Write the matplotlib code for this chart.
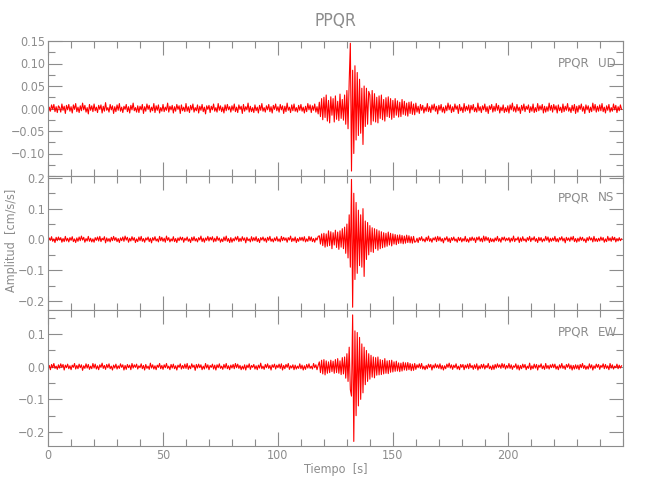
import numpy as np
import matplotlib
matplotlib.use('Agg')
import matplotlib.pyplot as plt
from matplotlib.ticker import MultipleLocator, FixedLocator

# Acelerogramas de la estacion PPQR (unidades de 0.001 cm/s/s)
# un valor cada 0.5 s, filas de 10 s
dt = 0.5

ud = [
    -14, 3, -6, 8, -2, 9, -7, 4, -9, 6, 2, -8, 10, -4, 5, -11, 7, -3, 9, -6,
    4, -10, 8, -2, 11, -7, 3, -9, 6, -5, 12, -3, 7, -8, 2, -12, 9, -4, 6, -7,
    10, -5, 3, -9, 7, -2, 8, -10, 5, -6, 13, -4, 2, -8, 9, -3, 6, -11, 4, -7,
    8, -4, 11, -6, 3, -9, 5, -2, 9, -7, 4, -10, 7, -3, 12, -5, 2, -8, 6, -9,
    5, -3, 9, -11, 4, -6, 10, -2, 7, -8, 3, -5, 11, -9, 6, -4, 8, -10, 2, -6,
    9, -7, 3, -4, 12, -8, 5, -3, 7, -10, 4, -6, 9, -2, 6, -11, 8, -5, 3, -7,
    11, -6, 4, -9, 7, -3, 10, -8, 2, -5, 8, -10, 5, -4, 9, -7, 3, -12, 6, -2,
    7, -9, 5, -3, 10, -6, 2, -8, 11, -4, 6, -7, 3, -10, 8, -5, 9, -3, 4, -8,
    6, -4, 10, -7, 3, -9, 8, -2, 5, -11, 9, -6, 4, -3, 12, -8, 5, -7, 2, -9,
    8, -5, 3, -10, 7, -4, 11, -6, 2, -8, 6, -3, 9, -7, 4, -10, 7, -2, 10, -5,
    4, -8, 9, -3, 6, -11, 5, -7, 12, -4, 3, -9, 8, -5, 10, -6, 2, -8, 7, -4,
    9, -6, 3, -10, 5, -7, 11, -3, 8, -9, 6, -4, 10, -8, 4, -12, 14, -18, 22, -25,
    25, -20, 30, -28, 18, -32, 26, -15, 22, -30, 28, -24, 16, -27, 32, -22, 20, -26, 30, -35,
    40, -45, 60, 145, -139, 85, -100, 95, -70, 80, -60, 65, -55, 45, -80, 50, -40, 45, -35, 38,
    30, -36, 40, -28, 33, -30, 25, -32, 28, -22, 30, -25, 20, -28, 24, -18, 26, -20, 22, -24,
    18, -20, 22, -15, 17, -19, 14, -18, 20, -13, 16, -15, 12, -17, 14, -11, 15, -13, 10, -14,
    12, -8, 5, -11, 9, -4, 7, -10, 3, -6, 11, -7, 4, -9, 8, -3, 10, -6, 5, -12,
    7, -4, 9, -8, 3, -10, 6, -5, 12, -3, 8, -9, 4, -7, 10, -2, 6, -11, 9, -5,
    3, -9, 11, -6, 5, -4, 8, -10, 7, -3, 9, -7, 2, -8, 12, -5, 4, -9, 6, -3,
    10, -7, 4, -11, 6, -2, 9, -8, 5, -6, 11, -4, 7, -10, 3, -5, 8, -9, 2, -7,
    6, -10, 8, -3, 12, -6, 4, -8, 9, -5, 3, -11, 7, -4, 10, -7, 5, -2, 8, -9,
    4, -6, 10, -9, 2, -7, 11, -5, 6, -3, 9, -10, 5, -8, 4, -6, 12, -4, 7, -8,
    9, -3, 6, -10, 8, -5, 3, -9, 10, -7, 5, -4, 11, -6, 2, -9, 7, -5, 9, -11,
    5, -8, 7, -2, 10, -6, 4, -11, 8, -3, 6, -9, 3, -7, 12, -4, 9, -8, 5, -6,
    8, -5, 11, -7, 3, -10, 6, -4, 9, -8, 2, -6, 10, -3, 7, -9, 4, -5, 8, -2,
]

ns = [
    -8, 5, -3, 9, -6, 2, -10, 7, -4, 8, -2, 6, -9, 3, -7, 10, -5, 4, -8, 6,
    -3, 9, -7, 2, -10, 5, -6, 8, -4, 11, -2, 7, -9, 3, -5, 10, -6, 4, -8, 2,
    -9, 6, -3, 8, -5, 10, -7, 4, -2, 9, -11, 5, -6, 3, -8, 7, -4, 10, -3, 6,
    -7, 3, -10, 5, -4, 8, -6, 11, -2, 7, -9, 4, -5, 9, -3, 6, -10, 2, -7, 8,
    -4, 10, -6, 3, -9, 5, -2, 8, -7, 4, -11, 6, -3, 9, -5, 2, -8, 10, -4, 7,
    -6, 4, -9, 11, -3, 6, -8, 2, -5, 9, -7, 3, -10, 5, -4, 8, -2, 7, -9, 4,
    -3, 8, -6, 2, -10, 7, -4, 9, -5, 3, -8, 6, -2, 11, -7, 4, -9, 5, -3, 10,
    -5, 7, -2, 9, -8, 4, -6, 10, -3, 5, -9, 2, -7, 8, -4, 11, -6, 3, -10, 6,
    -9, 3, -5, 8, -2, 10, -7, 4, -6, 9, -3, 5, -11, 7, -4, 2, -8, 9, -5, 6,
    -4, 9, -7, 3, -10, 6, -2, 8, -5, 4, -9, 7, -3, 10, -6, 2, -8, 5, -4, 9,
    -6, 2, -8, 10, -4, 7, -3, 5, -9, 6, -2, 11, -7, 4, -5, 8, -10, 3, -6, 7,
    -3, 7, -5, 9, -8, 2, -6, 10, -4, 8, -7, 3, -9, 5, -2, 10, 12, -15, 18, -20,
    20, -25, 18, -22, 28, -20, 25, -30, 22, -18, 30, -26, 24, -32, 28, -25, 35, -30, 40, -45,
    50, -60, 80, -90, 195, -220, 150, -130, 120, -110, 95, -85, 80, -90, 100, -120, 60, -65, 55, -50,
    45, -40, 38, -42, 35, -30, 32, -35, 28, -30, 25, -27, 22, -25, 20, -22, 24, -18, 20, -21,
    18, -15, 16, -17, 14, -13, 15, -12, 13, -14, 11, -12, 14, -10, 12, -11, 9, -12, 10, -9,
    -7, 4, -10, 6, -3, 9, -5, 2, -8, 7, -4, 11, -6, 3, -9, 5, -2, 8, -7, 10,
    -4, 8, -6, 3, -11, 5, -2, 9, -7, 4, -10, 6, -3, 8, -5, 2, -9, 7, -4, 6,
    -8, 3, -5, 10, -7, 2, -9, 6, -4, 8, -3, 5, -10, 7, -2, 9, -6, 4, -8, 11,
    -5, 9, -3, 6, -10, 4, -7, 2, -8, 5, -4, 10, -6, 3, -9, 7, -2, 8, -5, 4,
    -3, 6, -9, 4, -5, 11, -7, 3, -2, 8, -10, 5, -6, 9, -4, 2, -8, 6, -3, 10,
    -7, 5, -2, 9, -6, 3, -10, 7, -4, 6, -8, 2, -5, 10, -3, 8, -9, 4, -6, 5,
    -4, 10, -7, 3, -8, 6, -2, 9, -5, 4, -11, 7, -3, 5, -6, 8, -2, 10, -7, 3,
    -9, 4, -6, 8, -3, 7, -5, 2, -10, 6, -4, 9, -2, 5, -8, 10, -6, 3, -7, 4,
    -5, 8, -3, 6, -9, 2, -7, 10, -4, 5, -6, 9, -2, 7, -8, 3, -5, 6, -4, 2,
]

ew = [
    -6, 4, -9, 7, -3, 10, -5, 2, -8, 6, -4, 9, -2, 7, -10, 5, -3, 8, -6, 3,
    -9, 5, -2, 10, -7, 4, -6, 8, -3, 6, -11, 3, -5, 9, -4, 7, -8, 2, -6, 10,
    -4, 8, -7, 3, -9, 6, -2, 11, -5, 4, -8, 7, -3, 9, -6, 2, -10, 5, -4, 8,
    -7, 3, -5, 9, -2, 6, -10, 4, -8, 7, -3, 5, -9, 10, -4, 6, -2, 8, -7, 3,
    -3, 9, -6, 4, -10, 7, -5, 2, -8, 11, -4, 6, -7, 3, -9, 5, -2, 10, -6, 4,
    -8, 6, -3, 10, -5, 2, -9, 7, -4, 8, -6, 3, -10, 5, -2, 9, -7, 4, -5, 8,
    -5, 10, -8, 3, -6, 9, -2, 5, -11, 7, -4, 8, -3, 6, -9, 2, -7, 10, -4, 6,
    -9, 4, -2, 8, -7, 5, -10, 6, -3, 9, -5, 2, -8, 7, -4, 10, -6, 3, -9, 5,
    -4, 7, -6, 10, -3, 8, -5, 4, -9, 2, -7, 6, -10, 5, -3, 9, -8, 4, -2, 7,
    -7, 3, -9, 5, -4, 11, -6, 2, -8, 7, -3, 9, -5, 4, -10, 6, -2, 8, -7, 5,
    -3, 8, -5, 9, -10, 4, -6, 7, -2, 10, -8, 3, -4, 6, -9, 5, -7, 2, -5, 9,
    -6, 5, -10, 3, -8, 7, -4, 9, -5, 2, -7, 10, -3, 6, -9, 4, 15, -18, 20, -22,
    22, -25, 18, -20, 15, -18, 20, -15, 17, -20, 22, -18, 25, -20, 18, -24, 28, -22, 30, -35,
    40, -45, 60, -70, -90, 159, -229, 110, -150, 105, -120, 90, -100, 70, -80, 60, -55, 50, -45, 40,
    -38, 35, -32, 30, -34, 28, -26, 30, -25, 22, -24, 20, -22, 25, -20, 18, -21, 19, -17, 20,
    -16, 15, -14, 17, -13, 12, -15, 11, -13, 14, -10, 12, -11, 13, -9, 10, -12, 8, -11, 10,
    -8, 6, -3, 9, -5, 10, -7, 2, -9, 4, -6, 8, -2, 7, -10, 5, -4, 9, -3, 6,
    -5, 9, -7, 4, -10, 3, -6, 8, -2, 11, -4, 6, -8, 5, -3, 9, -7, 2, -9, 7,
    -2, 7, -9, 5, -4, 8, -6, 10, -3, 4, -8, 6, -5, 9, -10, 3, -6, 7, -4, 8,
    -7, 4, -3, 10, -6, 2, -9, 5, -8, 7, -4, 9, -2, 6, -5, 10, -3, 8, -7, 4,
    -4, 10, -5, 6, -8, 3, -2, 9, -7, 5, -10, 4, -6, 8, -3, 7, -9, 2, -5, 11,
    -9, 3, -6, 8, -4, 7, -10, 5, -2, 9, -6, 3, -8, 10, -5, 4, -7, 6, -3, 8,
    -3, 8, -7, 2, -9, 6, -4, 10, -5, 3, -8, 7, -2, 9, -6, 5, -10, 4, -7, 6,
    -6, 5, -9, 7, -3, 10, -5, 4, -8, 2, -7, 9, -4, 6, -10, 3, -5, 8, -2, 7,
    -8, 4, -2, 9, -6, 7, -5, 3, -9, 10, -4, 6, -7, 2, -3, 8, -6, 5, -4, 3,
]

estacion = 'PPQR'
componentes = ['UD', 'NS', 'EW']
limites_y = [(-0.15, 0.15), (-0.229, 0.206), (-0.243, 0.174)]
ticks_y = [[-0.10, -0.05, 0.00, 0.05, 0.10, 0.15],
           [-0.2, -0.1, 0.0, 0.1, 0.2],
           [-0.2, -0.1, 0.0, 0.1]]
etiquetas_y = [['\u22120.10', '\u22120.05', '0.00', '0.05', '0.10', '0.15'],
               ['\u22120.2', '\u22120.1', '0.0', '0.1', '0.2'],
               ['\u22120.2', '\u22120.1', '0.0', '0.1']]
menores_y = [0.025, 0.05, 0.05]
x_ticks = [0, 50, 100, 150, 200]

gris = '#8c8c8c'
plt.rcParams['font.family'] = ['DejaVu Sans']
plt.rcParams['font.stretch'] = 'condensed'
plt.rcParams['font.size'] = 9

trazas = [np.array(s) * 0.001 for s in (ud, ns, ew)]
t = np.arange(len(ud)) * dt

fig = plt.figure(figsize=(6.5, 5), dpi=100)
alturas = [(0.648, 0.270), (0.380, 0.268), (0.108, 0.272)]

for k in range(3):
    ax = fig.add_axes([0.074, alturas[k][0], 0.884, alturas[k][1]])
    ax.plot(t, trazas[k], color='red', lw=0.8)
    ax.set_xlim(0, 250)
    ax.set_ylim(*limites_y[k])
    ax.yaxis.set_major_locator(FixedLocator(ticks_y[k]))
    ax.set_yticklabels(etiquetas_y[k])
    ax.yaxis.set_minor_locator(MultipleLocator(menores_y[k]))
    ax.xaxis.set_major_locator(FixedLocator(x_ticks))
    ax.xaxis.set_minor_locator(MultipleLocator(10))
    ax.tick_params(which='both', direction='in', top=True, right=True,
                   color=gris, labelcolor=gris, width=0.8)
    ax.tick_params(which='major', length=10, pad=2)
    ax.tick_params(which='minor', length=5)
    for sp in ax.spines.values():
        sp.set_color(gris)
        sp.set_linewidth(0.8)
    if k < 2:
        ax.set_xticklabels([])
    ax.text(0.887, 0.81, estacion, transform=ax.transAxes, ha='left', va='baseline',
            color=gris, fontsize=9.5)
    ax.text(0.957, 0.81, componentes[k], transform=ax.transAxes, ha='left', va='baseline',
            color=gris, fontsize=9.5)

fig.text(0.516, 0.958, estacion, ha='center', va='center', color=gris, fontsize=12.5)
fig.text(0.018, 0.52, 'Amplitud  [cm/s/s]', rotation=90, ha='center', va='center', color=gris)
fig.text(0.516, 0.062, 'Tiempo  [s]', ha='center', va='center', color=gris)

fig.savefig('out.png', dpi=100)
